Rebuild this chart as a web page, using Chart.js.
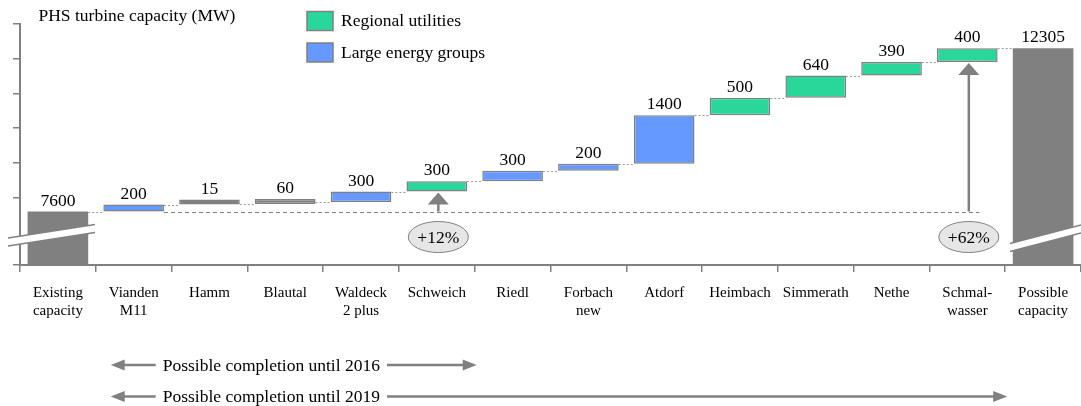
<!DOCTYPE html>
<html>
<head>
<meta charset="utf-8">
<script src="https://cdn.jsdelivr.net/npm/chart.js@4/dist/chart.umd.min.js"></script>
<style>
html,body{margin:0;padding:0;background:#fff;}
#wrap{width:1081px;height:406px;position:relative;}
</style>
</head>
<body>
<div id="wrap"><canvas id="c" width="1081" height="406"></canvas></div>
<script>
// ---------------- data ----------------
const categories = [
  ['Existing','capacity'], ['Vianden','M11'], 'Hamm', 'Blautal', ['Waldeck','2 plus'],
  'Schweich', 'Riedl', ['Forbach','new'], 'Atdorf', 'Heimbach', 'Simmerath', 'Nethe',
  ['Schmal-','wasser'], ['Possible','capacity']
];
const existingCapacity = 7600;
const possibleCapacity = 12305;
const additions = [null, 200, 15, 60, 300, 300, 300, 200, 1400, 500, 640, 390, 400, null];
const owners    = ['total','large','other','other','large','regional','large','large','large','regional','regional','regional','regional','total'];
const seriesNames = ['Regional utilities', 'Large energy groups'];
const growthIndex  = [5, 12];
const growthLabels = ['+12%', '+62%'];
const completionLabels = ['Possible completion until 2016', 'Possible completion until 2019'];
const completionFirst = [1, 1];
const completionLast  = [5, 12];
const yTickValues = [8000, 9000, 10000, 11000, 12000, 13000];
const chartTitle = 'PHS turbine capacity (MW)';

// ---------------- style ----------------
const GREEN = '#2AD79A', BLUE = '#6699FF', GRAY = '#808080';
const SERIF = '"Liberation Serif", "Times New Roman", serif';
const Y_MIN = 6060, Y_MAX = 13000;

// waterfall ranges built from the values
let running = existingCapacity;
const ranges = categories.map((c, i) => {
  if (owners[i] === 'total') return [Y_MIN, i === 0 ? existingCapacity : possibleCapacity];
  const r = [running, running + additions[i]];
  running += additions[i];
  return r;
});
const pick = key => ranges.map((r, i) => owners[i] === key ? r : null);

const barCommon = {
  grouped: false, categoryPercentage: 1, barPercentage: 0.8,
  borderSkipped: false, minBarLength: 4
};

const overlay = {
  id: 'overlay',
  beforeDatasetsDraw(chart) {
    const ctx = chart.ctx, x = chart.scales.x, y = chart.scales.y;
    const els = i => {
      for (let d = 0; d < chart.data.datasets.length; d++) {
        if (chart.data.datasets[d].data[i]) return chart.getDatasetMeta(d).data[i];
      }
    };
    ctx.save();
    // dotted connectors
    ctx.strokeStyle = '#9a9a9a'; ctx.lineWidth = 1; ctx.setLineDash([2, 2]);
    for (let i = 0; i < categories.length - 1; i++) {
      const a = els(i), b = els(i + 1);
      const yy = Math.round(y.getPixelForValue(ranges[i][1])) + 0.5;
      ctx.beginPath();
      ctx.moveTo(a.x + a.width / 2, yy);
      ctx.lineTo(b.x - b.width / 2, yy);
      ctx.stroke();
    }
    // dashed baseline at existing capacity
    const b1 = els(1);
    const yb = Math.round(y.getPixelForValue(existingCapacity)) + 0.5;
    ctx.strokeStyle = GRAY; ctx.setLineDash([4, 3]);
    ctx.beginPath();
    ctx.moveTo(b1.x + b1.width / 2, yb);
    ctx.lineTo(x.getPixelForValue(growthIndex[growthIndex.length - 1]) + 12, yb);
    ctx.stroke();
    ctx.restore();
  },
  afterDatasetsDraw(chart) {
    const ctx = chart.ctx, x = chart.scales.x, y = chart.scales.y;
    ctx.save();
    // value labels
    ctx.fillStyle = '#000'; ctx.font = '17.5px ' + SERIF;
    ctx.textAlign = 'center'; ctx.textBaseline = 'alphabetic';
    chart.data.datasets.forEach((ds, d) => {
      chart.getDatasetMeta(d).data.forEach((el, i) => {
        if (!ds.data[i]) return;
        const v = owners[i] === 'total' ? (i === 0 ? existingCapacity : possibleCapacity) : additions[i];
        ctx.fillText(String(v), el.x, Math.min(el.y, el.base) - 6);
      });
    });
    // growth arrows
    const yb = y.getPixelForValue(existingCapacity);
    growthIndex.forEach((k, j) => {
      const cx = x.getPixelForValue(k) + 1.5;
      const tip = y.getPixelForValue(ranges[k][0]) + 1;
      ctx.strokeStyle = GRAY; ctx.fillStyle = GRAY; ctx.lineWidth = 2.5; ctx.setLineDash([]);
      ctx.beginPath(); ctx.moveTo(cx, yb); ctx.lineTo(cx, tip + 11); ctx.stroke();
      ctx.beginPath(); ctx.moveTo(cx, tip); ctx.lineTo(cx - 10.5, tip + 12); ctx.lineTo(cx + 10.5, tip + 12); ctx.closePath(); ctx.fill();
      // ellipse label
      const ey = yb + 25.5;
      ctx.beginPath(); ctx.ellipse(cx, ey, 30, 15.5, 0, 0, Math.PI * 2);
      ctx.fillStyle = '#e6e6e6'; ctx.fill();
      ctx.lineWidth = 1; ctx.strokeStyle = GRAY; ctx.stroke();
      ctx.fillStyle = '#000'; ctx.font = '17.5px ' + SERIF;
      ctx.textAlign = 'center'; ctx.textBaseline = 'middle';
      ctx.fillText(growthLabels[j], cx, ey + 1);
    });
    // axis breaks
    const brk = (x0, y0, x1, y1, t) => {
      ctx.fillStyle = '#fff';
      ctx.beginPath();
      ctx.moveTo(x0, y0 - t / 2); ctx.lineTo(x1, y1 - t / 2);
      ctx.lineTo(x1, y1 + t / 2); ctx.lineTo(x0, y0 + t / 2); ctx.closePath(); ctx.fill();
      ctx.strokeStyle = GRAY; ctx.lineWidth = 1.5;
      ctx.beginPath(); ctx.moveTo(x0, y0 - t / 2); ctx.lineTo(x1, y1 - t / 2); ctx.stroke();
      ctx.beginPath(); ctx.moveTo(x0, y0 + t / 2); ctx.lineTo(x1, y1 + t / 2); ctx.stroke();
    };
    brk(8, 242, 95, 228.5, 8);
    brk(1010, 247.5, 1081, 229, 8);
    ctx.restore();
  },
  afterDraw(chart) {
    const ctx = chart.ctx, x = chart.scales.x;
    ctx.save();
    // title
    ctx.fillStyle = '#000'; ctx.font = '17.5px ' + SERIF;
    ctx.textAlign = 'left'; ctx.textBaseline = 'alphabetic';
    ctx.fillText(chartTitle, 38.5, 21);
    // legend
    const legendColors = [GREEN, BLUE];
    seriesNames.forEach((name, j) => {
      const by = 11.5 + j * 31.5;
      ctx.fillStyle = legendColors[j];
      ctx.fillRect(307, by, 26, 19);
      ctx.strokeStyle = GRAY; ctx.lineWidth = 1.5;
      ctx.strokeRect(307, by, 26, 19);
      ctx.fillStyle = '#000'; ctx.textBaseline = 'middle';
      ctx.fillText(name, 341, by + 10);
    });
    // completion arrows
    const half = x.width / categories.length / 2;
    completionLabels.forEach((label, j) => {
      const yy = 365 + j * 31.5;
      const left = x.getPixelForValue(completionFirst[j]) - 23;
      const right = x.getPixelForValue(completionLast[j]) + half + 2;
      ctx.font = '17.5px ' + SERIF;
      const tx = left + 52;
      const tw = ctx.measureText(label).width;
      ctx.strokeStyle = GRAY; ctx.fillStyle = GRAY; ctx.lineWidth = 2.5;
      ctx.beginPath(); ctx.moveTo(left + 10, yy); ctx.lineTo(tx - 7, yy); ctx.stroke();
      ctx.beginPath(); ctx.moveTo(tx + tw + 7, yy); ctx.lineTo(right - 10, yy); ctx.stroke();
      ctx.beginPath(); ctx.moveTo(left, yy); ctx.lineTo(left + 14, yy - 5.5); ctx.lineTo(left + 14, yy + 5.5); ctx.closePath(); ctx.fill();
      ctx.beginPath(); ctx.moveTo(right, yy); ctx.lineTo(right - 14, yy - 5.5); ctx.lineTo(right - 14, yy + 5.5); ctx.closePath(); ctx.fill();
      ctx.fillStyle = '#000'; ctx.textAlign = 'left'; ctx.textBaseline = 'middle';
      ctx.fillText(label, tx, yy + 1);
    });
    ctx.restore();
  }
};

new Chart(document.getElementById('c'), {
  type: 'bar',
  data: {
    labels: categories,
    datasets: [
      Object.assign({}, barCommon, { label: 'Capacity', data: pick('total'), backgroundColor: GRAY, borderColor: GRAY, borderWidth: 0 }),
      Object.assign({}, barCommon, { label: seriesNames[0], data: pick('regional'), backgroundColor: GREEN, borderColor: GRAY, borderWidth: 1.5 }),
      Object.assign({}, barCommon, { label: seriesNames[1], data: pick('large'), backgroundColor: BLUE, borderColor: GRAY, borderWidth: 1.5 }),
      Object.assign({}, barCommon, { label: 'Other', data: pick('other'), backgroundColor: GRAY, borderColor: GRAY, borderWidth: 1.5, minBarLength: 5 })
    ]
  },
  options: {
    responsive: false, animation: false, devicePixelRatio: 1,
    layout: { padding: { top: 24, left: 13, right: 0, bottom: 0 } },
    plugins: { legend: { display: false }, title: { display: false }, tooltip: { enabled: false } },
    scales: {
      x: {
        grid: { display: true, drawOnChartArea: false, drawTicks: true, tickLength: 7, color: GRAY, lineWidth: 1.5, offset: true },
        border: { display: true, color: GRAY, width: 2 },
        ticks: { color: '#000', font: { family: SERIF, size: 15, lineHeight: 1.2 }, padding: 12, maxRotation: 0, autoSkip: false },
        afterFit: s => { s.height = 141; }
      },
      y: {
        min: Y_MIN, max: Y_MAX,
        afterBuildTicks: s => { s.ticks = [Y_MIN].concat(yTickValues).map(v => ({ value: v })); },
        grid: { display: true, drawOnChartArea: false, drawTicks: true, tickLength: 7, color: GRAY, lineWidth: 1.5 },
        border: { display: true, color: GRAY, width: 2 },
        ticks: { display: false },
        afterFit: s => { s.width = 7; }
      }
    }
  },
  plugins: [overlay]
});
</script>
</body>
</html>
